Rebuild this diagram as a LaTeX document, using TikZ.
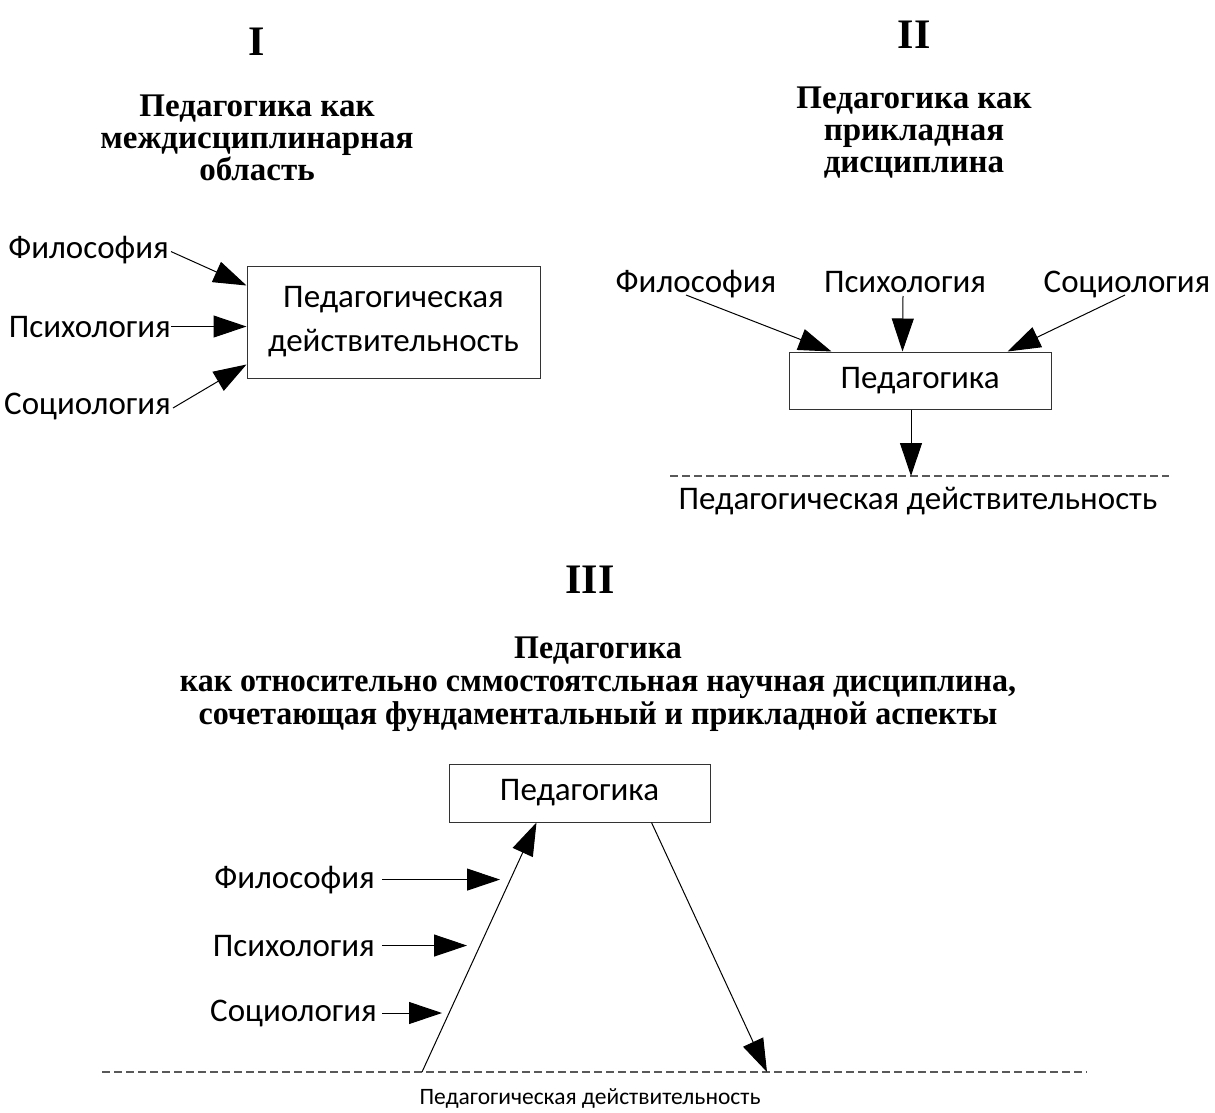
\documentclass[tikz,border=0pt]{standalone}
\usepackage{fontspec}
\setmainfont{Carlito}
\newfontfamily\titlefont{Liberation Serif}
\newfontfamily\condfont[FakeStretch=0.97]{Liberation Serif}
\usetikzlibrary{arrows.meta,calc}
\begin{document}
\begin{tikzpicture}[x=1pt,y=-1pt,
  lbl/.style={font=\fontsize{33}{40}\selectfont, inner sep=0pt},
  small/.style={font=\fontsize{23.5}{28}\selectfont, inner sep=0pt},
  roman/.style={font=\titlefont\bfseries\fontsize{42}{46}\selectfont, inner sep=0pt},
  ttl/.style={font=\titlefont\bfseries\fontsize{33}{32}\selectfont, align=center, inner sep=0pt},
  box/.style={draw=black!80, line width=1pt, inner sep=0pt, font=\fontsize{33}{44}\selectfont, align=center},
  arr/.style={-{Triangle[length=33pt,width=22pt]}, line width=1pt},
  base/.style={draw=black!65, line width=1.2pt, dash pattern=on 8pt off 4pt}
]
\useasboundingbox (0,0) rectangle (1215,1113);

% ---------- I ----------
\node[roman] (r1) at (257,42) {I};
\node[ttl] (t1) at (257,138) {Педагогика как\\междисциплинарная\\область};
\node[box, minimum width=293pt, minimum height=112pt] (b1) at (393.5,322) {Педагогическая\\действительность};
\node[lbl, anchor=base east] (f1) at (169,258) {Философия};
\node[lbl, anchor=base east] (p1) at (171,337) {Психология};
\node[lbl, anchor=base east] (s1) at (171,414) {Социология};
\draw[arr] ($(f1.east)+(2,2)$) -- ($(b1.north west)+(0,20)$);
\draw[arr] (p1.east) -- (p1.east -| b1.west);
\draw[arr] ($(s1.east)+(2,2)$) -- ($(b1.south west)+(0,-14)$);

% ---------- II ----------
\node[roman] (r2) at (914,35) {II};
\node[ttl] (t2) at (914,133) {Педагогика как\\прикладная\\дисциплина};
\node[lbl, anchor=base] (f2) at (696,292) {Философия};
\node[lbl, anchor=base] (p2) at (905,292) {Психология};
\node[lbl, anchor=base] (s2) at (1127,292) {Социология};
\node[box, minimum width=262pt, minimum height=57pt] (b2) at (920,380.5) {Педагогика};
\draw[arr] ($(f2.base)+(-10,3)$) -- ($(b2.north west)+(43,0)$);
\draw[arr] ($(p2.base)+(-2,4)$) -- ($(b2.north west)+(114,0)$);
\draw[arr] ($(s2.base)+(-2,3)$) -- ($(b2.north west)+(219,0)$);
\coordinate (d2l) at (670,476);
\coordinate (d2r) at (1169,476);
\coordinate (d2t) at (911,476);
\draw[base] (d2l) -- (d2r);
\draw[arr] (b2.south -| d2t) -- (d2t);
\node[lbl] (pd2) at (918,501) {Педагогическая действительность};

% ---------- III ----------
\node[roman] (r3) at (590,580) {III};
\node[align=center, inner sep=0pt, font=\condfont\bfseries\fontsize{33}{33}\selectfont] (t3) at (598,684) {Педагогика\\как относительно сммостоятсльная научная дисциплина,\\сочетающая фундаментальный и прикладной аспекты};
\node[box, minimum width=261pt, minimum height=58pt] (b3) at (579.5,793) {Педагогика};
\node[lbl, anchor=base east] (f3) at (375,888) {Философия};
\node[lbl, anchor=base east] (p3) at (375,956) {Психология};
\node[lbl, anchor=base east] (s3) at (377,1021) {Социология};
\coordinate (d3l) at (102,1072);
\coordinate (d3r) at (1087,1072);
\coordinate (up0) at (422,1072);
\coordinate (dn1) at (767,1072);
\draw[base] (d3l) -- (d3r);
\draw[arr] ($(f3.east)+(7,0)$) -- ++(118,0);
\draw[arr] ($(p3.east)+(7,0)$) -- ++(85,0);
\draw[arr] ($(s3.east)+(5,0)$) -- ++(60,0);
\draw[arr] (up0) -- ($(b3.south west)+(88,0)$);
\draw[arr] ($(b3.south west)+(203,0)$) -- (dn1);
\node[small] (pd3) at (590,1098) {Педагогическая действительность};
\end{tikzpicture}
\end{document}
